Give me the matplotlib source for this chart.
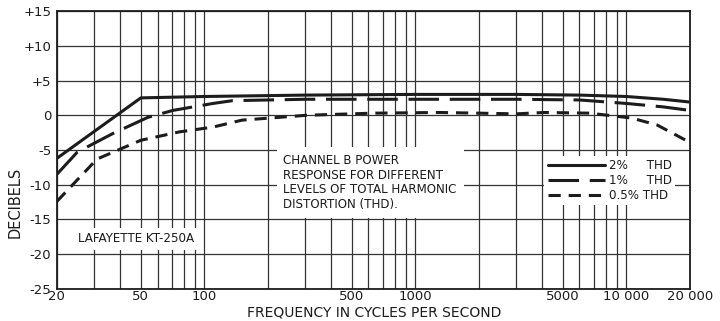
import matplotlib.pyplot as plt
from matplotlib.ticker import FixedLocator, NullFormatter

# Curvas de resposta (Hz, dB)
freq_2 = [20, 50, 100, 300, 1000, 3000, 6000, 10000, 15000, 20000]
db_2 = [-6.2, 2.5, 2.7, 2.9, 3.0, 3.0, 2.9, 2.7, 2.3, 1.9]

freq_1 = [20, 25, 37, 54, 71, 110, 136, 300, 1000, 3000, 6000, 10000, 15000, 20000]
db_1 = [-8.5, -5.3, -2.6, -0.3, 0.7, 1.7, 2.1, 2.3, 2.3, 2.3, 2.2, 1.7, 1.2, 0.7]

freq_05 = [20, 31, 50, 76, 110, 151, 306, 630, 1300, 2000, 3000, 4100, 6700, 10600, 14000, 20000]
db_05 = [-12.4, -6.3, -3.6, -2.4, -1.7, -0.7, 0.0, 0.3, 0.4, 0.3, 0.2, 0.4, 0.3, -0.4, -1.4, -3.9]

xticks = [20, 50, 100, 500, 1000, 5000, 10000, 20000]
xtick_labels = ["20", "50", "100", "500", "1000", "5000", "10 000", "20 000"]
yticks = [-25, -20, -15, -10, -5, 0, 5, 10, 15]
ytick_labels = ["-25", "-20", "-15", "-10", "-5", "0", "+5", "+10", "+15"]

ink = "#1c1c1c"
plt.rcParams['font.family'] = ['DejaVu Sans']

fig = plt.figure(figsize=(7.2, 3.21), dpi=100)
ax = fig.add_axes([0.079, 0.0997, 0.879, 0.866])

ax.set_xscale('log')
ax.set_xlim(20, 20000)
ax.set_ylim(-25, 15)

# grelha: todas as linhas 2..9 de cada decada
grid_x = [m * 10 ** d for d in range(1, 5) for m in range(1, 10) if 20 <= m * 10 ** d <= 20000]
for gx in grid_x:
    ax.axvline(gx, color="#333333", lw=0.9, zorder=1)
for gy in yticks:
    ax.axhline(gy, color="#333333", lw=0.9, zorder=1)

ax.xaxis.set_major_locator(FixedLocator(xticks))
ax.xaxis.set_minor_formatter(NullFormatter())
ax.set_xticks(xticks)
ax.set_xticklabels(xtick_labels)
ax.set_yticks(yticks)
ax.set_yticklabels(ytick_labels)
ax.tick_params(axis='both', which='both', length=0, labelsize=9.5, colors=ink)
ax.tick_params(axis='x', pad=1)
ax.tick_params(axis='y', pad=4)
ax.minorticks_off()
for s in ax.spines.values():
    s.set_color(ink)
    s.set_linewidth(1.3)

l2, = ax.plot(freq_2, db_2, color=ink, lw=2.2, zorder=3, solid_capstyle='round')
l1, = ax.plot(freq_1, db_1, color=ink, lw=2.2, zorder=3, dashes=(10, 3.5))
l05, = ax.plot(freq_05, db_05, color=ink, lw=2.2, zorder=3, dashes=(4, 2.6))

# texto com fundo branco
box = dict(facecolor='white', edgecolor='none', pad=3)
ax.text(0.358, 0.485,
        "CHANNEL B POWER\nRESPONSE FOR DIFFERENT\nLEVELS OF TOTAL HARMONIC\nDISTORTION (THD).",
        transform=ax.transAxes, fontsize=8.6, color=ink, va='top', ha='left',
        linespacing=1.15, bbox=dict(facecolor='white', edgecolor='none', pad=5), zorder=4)
ax.text(0.033, 0.18, "LAFAYETTE KT-250A", transform=ax.transAxes,
        fontsize=8.6, color=ink, va='center', ha='left', bbox=box, zorder=4)

leg = ax.legend([l2, l1, l05], ["2%     THD", "1%     THD", "0.5% THD"],
                loc='upper left', bbox_to_anchor=(0.77, 0.48), frameon=True,
                fontsize=8.6, handlelength=4.8, handletextpad=0.3,
                labelspacing=0.15, borderpad=0.3, borderaxespad=0)
leg.get_frame().set_facecolor('white')
leg.get_frame().set_edgecolor('none')
leg.get_frame().set_alpha(1)
leg.set_zorder(5)
for t in leg.get_texts():
    t.set_color(ink)

fig.text(0.52, 0.026, "FREQUENCY IN CYCLES PER SECOND", ha='center', va='center',
         fontsize=10, color=ink)
fig.text(0.021, 0.37, "DECIBELS", rotation=90, ha='center', va='center',
         fontsize=10.5, color=ink)

fig.savefig("out.png", dpi=100, facecolor='white')
